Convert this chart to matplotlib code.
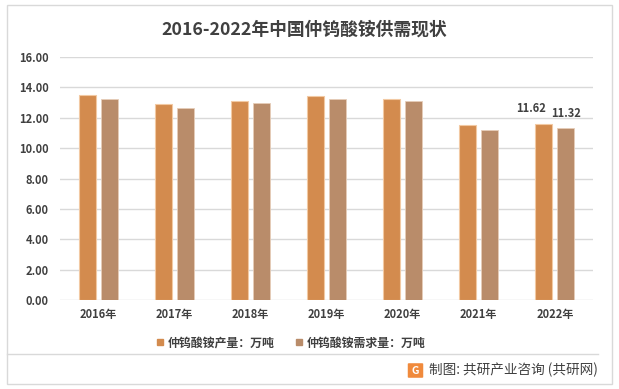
import matplotlib
matplotlib.use("Agg")
import matplotlib.pyplot as plt
import numpy as np
from matplotlib.patches import FancyBboxPatch, Rectangle
from matplotlib.lines import Line2D

plt.rcParams['font.family'] = ['Noto Sans CJK SC', 'DejaVu Sans']

years = ["2016年", "2017年", "2018年", "2019年", "2020年", "2021年", "2022年"]
production = [13.49, 12.90, 13.10, 13.45, 13.23, 11.52, 11.62]
demand = [13.25, 12.66, 12.99, 13.25, 13.12, 11.21, 11.32]
series_names = ["仲钨酸铵产量：万吨", "仲钨酸铵需求量：万吨"]
title = "2016-2022年中国仲钨酸铵供需现状"
source = "制图: 共研产业咨询 (共研网)"

c_prod = "#D38B4E"
c_dem = "#B98C6A"
txt = "#404040"

fig = plt.figure(figsize=(6.19, 3.89), dpi=100)
W, H = 619, 389

# outer border
fig.patches.append(Rectangle((7/W, 5/H), 605/W, 379/H, transform=fig.transFigure,
                             fill=False, edgecolor="#d9d9d9", linewidth=1))

ax = fig.add_axes([60/W, 1-300/H, 533/W, 243/H])
x = np.arange(len(years))
w = 0.223
off = 0.145
ax.bar(x - off, production, width=w, color=c_prod, edgecolor="#F2C9A3", linewidth=0.8, zorder=3)
ax.bar(x + off, demand, width=w, color=c_dem, edgecolor="#E6CDB8", linewidth=0.6, zorder=3)

ax.set_xlim(-0.5, len(years) - 0.5)
ax.set_ylim(0, 16)
ax.set_yticks(np.arange(0, 17, 2))
ax.set_yticklabels([f"{v:.2f}" for v in np.arange(0, 17, 2)], fontsize=8, color=txt, fontweight='bold')
ax.set_xticks(x)
ax.set_xticklabels(years, fontsize=8, color=txt, fontweight='bold')
ax.tick_params(axis='both', length=0, pad=8)
ax.tick_params(axis='x', pad=6)
ax.grid(axis='y', color="#d9d9d9", linewidth=1, zorder=0)
for s in ax.spines.values():
    s.set_visible(False)
ax.set_facecolor("none")

# data labels for last year
ax.annotate(f"{production[-1]:.2f}", (x[-1] - off, production[-1]), xytext=(-9, 6),
            textcoords="offset points", ha='center', va='bottom', fontsize=8, color=txt, fontweight='bold')
ax.annotate(f"{demand[-1]:.2f}", (x[-1] + off, demand[-1]), xytext=(0, 6),
            textcoords="offset points", ha='center', va='bottom', fontsize=8, color=txt, fontweight='bold')

fig.text(304/W, 1-30/H, title, ha='center', va='center', fontsize=12.8, fontweight='bold', color=txt)

handles = [Line2D([], [], marker='s', linestyle='', markersize=5, color=c_prod),
           Line2D([], [], marker='s', linestyle='', markersize=5, color=c_dem)]
fig.legend(handles, series_names, loc='center', bbox_to_anchor=(291/W, 1-343/H), ncol=2,
           frameon=False, handlelength=0.6, handletextpad=0.3, columnspacing=1.8,
           labelcolor=txt, prop={'weight': 'bold', 'size': 8.6})

# separator line
fig.add_artist(Line2D([7/W, 598/W], [1-354/H, 1-354/H], transform=fig.transFigure,
                      color="#d9d9d9", linewidth=1))

# logo
fig.patches.append(FancyBboxPatch((409/W, 1-377/H), 13/W, 13/H, boxstyle="round,pad=0.002",
                                  transform=fig.transFigure, facecolor="#F08A3C", edgecolor="none"))
fig.text(415.5/W, 1-370.5/H, "G", ha='center', va='center', fontsize=7.5, color="white", fontweight='bold')
fig.text(598/W, 1-370/H, source, ha='right', va='center', fontsize=9.8, color=txt)

fig.savefig("out.png", dpi=100)
